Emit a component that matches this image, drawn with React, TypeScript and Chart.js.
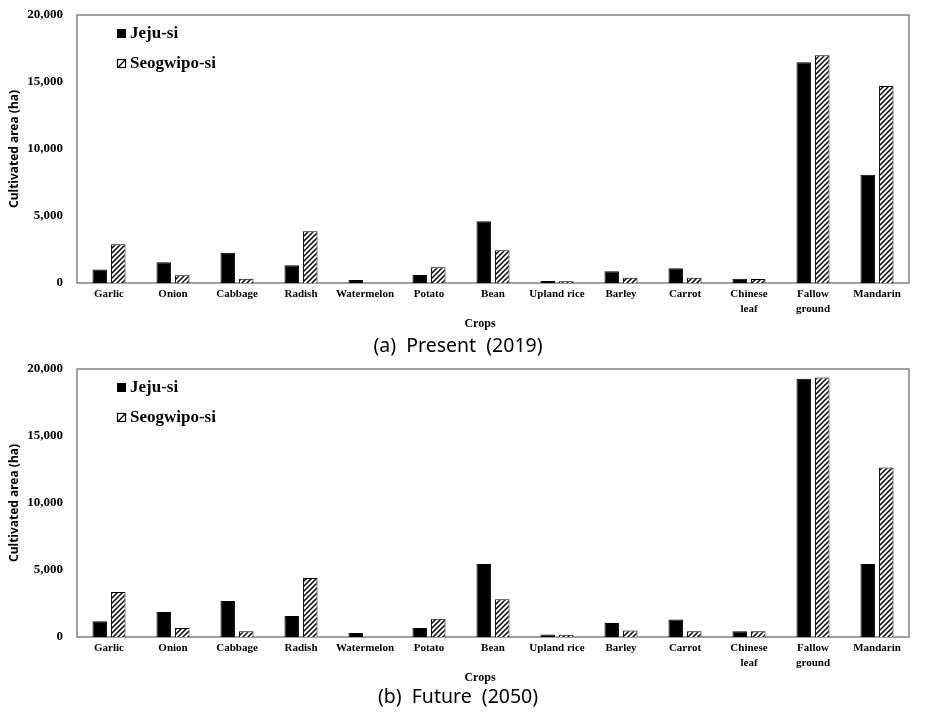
import React, { useEffect, useRef } from "react";
import { Chart, registerables } from "chart.js";

Chart.register(...registerables);

// Crop categories (two-line labels as arrays)
const crops: (string | string[])[] = [
  "Garlic",
  "Onion",
  "Cabbage",
  "Radish",
  "Watermelon",
  "Potato",
  "Bean",
  "Upland rice",
  "Barley",
  "Carrot",
  ["Chinese", "leaf"],
  ["Fallow", "ground"],
  "Mandarin",
];

const seriesNames = ["Jeju-si", "Seogwipo-si"];

// Cultivated area (ha), present (2019)
const presentJeju = [1000, 1540, 2260, 1320, 220, 600, 4600, 150, 870, 1100, 320, 16470, 8080];
const presentSeogwipo = [2900, 570, 320, 3860, 0, 1170, 2440, 130, 400, 400, 300, 16990, 14700];

// Cultivated area (ha), future (2050)
const futureJeju = [1170, 1870, 2690, 1570, 300, 670, 5450, 180, 1050, 1300, 420, 19280, 5450];
const futureSeogwipo = [3360, 670, 420, 4400, 0, 1370, 2810, 160, 480, 420, 420, 19360, 12640];

const yMin = 0;
const yMax = 20000;
const yStep = 5000;

const xTitle = "Crops";
const yTitle = "Cultivated area (ha)";
const captionPresent = "(a)  Present  (2019)";
const captionFuture = "(b)  Future  (2050)";

function makeHatch(): CanvasPattern | string {
  const s = 5;
  const c = document.createElement("canvas");
  c.width = s;
  c.height = s;
  const g = c.getContext("2d");
  if (!g) return "#fff";
  g.fillStyle = "#fff";
  g.fillRect(0, 0, s, s);
  g.strokeStyle = "#000";
  g.lineWidth = 1.5;
  g.beginPath();
  g.moveTo(0, s);
  g.lineTo(s, 0);
  g.moveTo(-1, 1);
  g.lineTo(1, -1);
  g.moveTo(s - 1, s + 1);
  g.lineTo(s + 1, s - 1);
  g.stroke();
  return g.createPattern(c, "repeat") || "#fff";
}

// Frame around the plot area, in-plot legend, axis caption and panel caption
const panelDecor = {
  id: "panelDecor",
  beforeDatasetsDraw(chart: any) {
    const { ctx, chartArea: a } = chart;
    ctx.save();
    ctx.strokeStyle = "#808080";
    ctx.lineWidth = 1.5;
    ctx.strokeRect(a.left, a.top, a.right - a.left, a.bottom - a.top);
    ctx.restore();
  },
  afterDraw(chart: any, _args: any, opts: any) {
    const { ctx, chartArea: a } = chart;
    ctx.save();
    // legend
    const sx = a.left + 40;
    const rows = [a.top + 18.5, a.top + 48.5];
    ctx.font = "bold 17px 'Liberation Serif'";
    ctx.textBaseline = "middle";
    ctx.textAlign = "left";
    chart.data.datasets.forEach((ds: any, i: number) => {
      const cy = rows[i];
      if (i === 0) {
        ctx.fillStyle = "#000";
        ctx.fillRect(sx, cy - 4.5, 9, 9);
      } else {
        ctx.fillStyle = "#fff";
        ctx.fillRect(sx, cy - 4.5, 9, 9);
        ctx.strokeStyle = "#000";
        ctx.lineWidth = 1.2;
        ctx.strokeRect(sx + 0.5, cy - 4, 8, 8);
        ctx.beginPath();
        ctx.moveTo(sx + 1, cy + 4);
        ctx.lineTo(sx + 8, cy - 3.5);
        ctx.stroke();
      }
      ctx.fillStyle = "#000";
      ctx.fillText(ds.label, sx + 13, cy + 0.5);
    });
    // x axis caption
    ctx.font = "bold 12px 'Liberation Serif'";
    ctx.textAlign = "center";
    ctx.fillText(xTitle, 480, opts.cropsY);
    // panel caption
    ctx.font = "19.5px 'Noto Sans'";
    ctx.fillText(opts.caption, 458, opts.captionY);
    ctx.restore();
  },
};

type PanelProps = {
  top: number;
  height: number;
  padTop: number;
  axisHeight: number;
  jeju: number[];
  seogwipo: number[];
  caption: string;
  cropsY: number;
  captionY: number;
};

function Panel(p: PanelProps) {
  const ref = useRef<HTMLCanvasElement | null>(null);

  useEffect(() => {
    const canvas = ref.current;
    if (!canvas) return;
    const hatch = makeHatch();
    const chart = new Chart(canvas, {
      type: "bar",
      data: {
        labels: crops as any,
        datasets: [
          {
            label: seriesNames[0],
            data: p.jeju,
            backgroundColor: "#000",
            borderColor: "#000",
            borderWidth: 1,
            categoryPercentage: 0.58,
            barPercentage: 0.78,
          },
          {
            label: seriesNames[1],
            data: p.seogwipo,
            backgroundColor: hatch as any,
            borderColor: "#000",
            borderWidth: 1,
            categoryPercentage: 0.58,
            barPercentage: 0.78,
          },
        ],
      },
      options: {
        responsive: false,
        maintainAspectRatio: false,
        animation: false,
        devicePixelRatio: 1,
        layout: { padding: { top: p.padTop, left: 0, right: 21, bottom: 0 } },
        plugins: {
          legend: { display: false },
          tooltip: { enabled: false },
          panelDecor: { caption: p.caption, cropsY: p.cropsY, captionY: p.captionY },
        } as any,
        scales: {
          x: {
            grid: { display: false, drawTicks: false },
            border: { display: false },
            ticks: {
              color: "#000",
              padding: 4,
              autoSkip: false,
              maxRotation: 0,
              minRotation: 0,
              font: { family: "'Liberation Serif'", size: 11, weight: "bold", lineHeight: 1.36 },
            },
            afterFit: (scale: any) => {
              scale.height = p.axisHeight;
              scale.paddingLeft = 0;
              scale.paddingRight = 0;
            },
          },
          y: {
            min: yMin,
            max: yMax,
            grid: { display: false, drawTicks: false },
            border: { display: false },
            ticks: {
              stepSize: yStep,
              color: "#000",
              padding: 14,
              font: { family: "'Liberation Serif'", size: 13, weight: "bold" },
              callback: (v: any) => Number(v).toLocaleString("en-US"),
            },
            title: {
              display: true,
              text: yTitle,
              color: "#000",
              padding: { top: 7, bottom: 0 },
              font: { family: "'Noto Sans'", size: 12, weight: "bold" },
            },
            afterFit: (scale: any) => {
              scale.width = 77;
              scale.paddingTop = 0;
              scale.paddingBottom = 0;
            },
          },
        },
      },
      plugins: [panelDecor as any],
    });
    return () => chart.destroy();
  }, []);

  return (
    <canvas
      ref={ref}
      width={930}
      height={p.height}
      style={{ position: "absolute", left: 0, top: p.top, width: 930, height: p.height }}
    />
  );
}

export default function App() {
  return (
    <div style={{ position: "absolute", left: 0, top: 0, width: 930, height: 721, background: "#fff" }}>
      <Panel
        top={0}
        height={360}
        padTop={15}
        axisHeight={77}
        jeju={presentJeju}
        seogwipo={presentSeogwipo}
        caption={captionPresent}
        cropsY={324}
        captionY={346}
      />
      <Panel
        top={360}
        height={361}
        padTop={9}
        axisHeight={84}
        jeju={futureJeju}
        seogwipo={futureSeogwipo}
        caption={captionFuture}
        cropsY={318}
        captionY={337}
      />
    </div>
  );
}
